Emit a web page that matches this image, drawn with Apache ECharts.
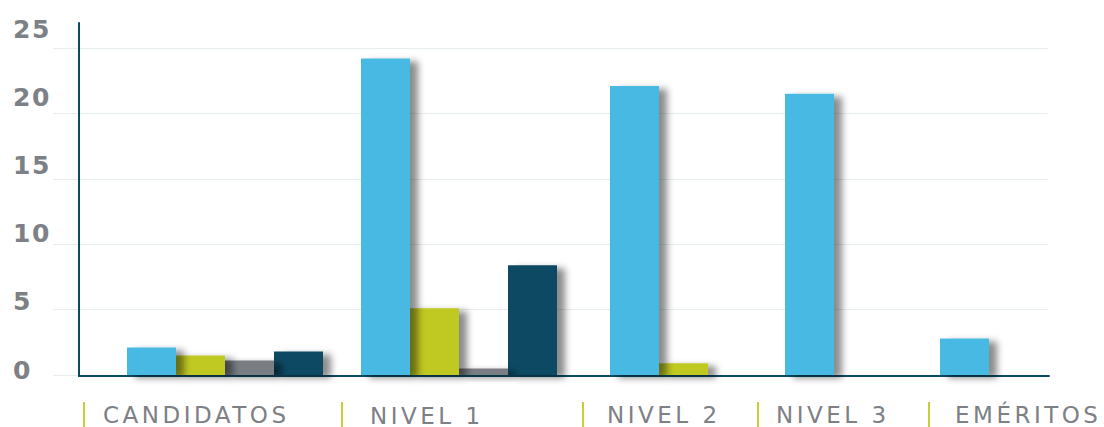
<!DOCTYPE html>
<html><head><meta charset="utf-8">
<script src="https://cdn.jsdelivr.net/npm/echarts@6/dist/echarts.min.js"></script>
<style>
html,body{margin:0;padding:0;background:#fff}
#chart{width:1104px;height:427px}
#chart svg text[style*="23px"]{letter-spacing:3.5px}
#chart svg text[style*="25px"]{letter-spacing:1.5px}
</style>
</head><body><div id="chart"></div>
<script>
// ---- data ----
const categories = ['CANDIDATOS', 'NIVEL 1', 'NIVEL 2', 'NIVEL 3', 'EMÉRITOS'];
const serieAzul   = [2.1, 24.2, 22.1, 21.5, 2.8];
const serieVerde  = [1.5, 5.1, 0.9, null, null];
const serieGris   = [1.1, 0.5, null, null, null];
const serieOscura = [1.8, 8.4, null, null, null];
const yTicks = [0, 5, 10, 15, 20, 25];

// ---- styling / layout ----
const seriesList = [
  { name: 'Serie 1', data: serieAzul,   color: '#47b9e2' },
  { name: 'Serie 2', data: serieVerde,  color: '#c0c822' },
  { name: 'Serie 3', data: serieGris,   color: '#7a7e83' },
  { name: 'Serie 4', data: serieOscura, color: '#0b4a64' }
];
const groupLayout = [
  { left: 127, width: 196 },
  { left: 361, width: 196 },
  { left: 610, width: 98 },
  { left: 785, width: 49 },
  { left: 940, width: 49 }
];
const labelLayout = [
  { tick: 83,  x: 103, top: 403 },
  { tick: 341, x: 370, top: 404 },
  { tick: 582, x: 607, top: 403 },
  { tick: 757, x: 776, top: 403 },
  { tick: 928, x: 955, top: 403 }
];
const yMin = yTicks[0], yMax = yTicks[yTicks.length - 1], yStep = yTicks[1] - yTicks[0];

const grids = [
  { left: 53, right: 56, top: 48, bottom: 52 },   // gridlines
  { left: 79, right: 55, top: 23, bottom: 51 },   // axis lines
  { left: 79, right: 55, top: 29, bottom: 57 }    // y labels
];
const xAxes = [
  { gridIndex: 0, type: 'category', data: categories, show: false },
  { gridIndex: 1, type: 'category', data: categories, axisLine: { show: true, lineStyle: { color: '#0b4a64', width: 2 } }, axisTick: { show: false }, axisLabel: { show: false } },
  { gridIndex: 2, type: 'category', data: categories, show: false }
];
const yAxes = [
  { gridIndex: 0, type: 'value', min: yMin, max: yMax, interval: yStep, axisLine: { show: false }, axisTick: { show: false }, axisLabel: { show: false }, splitLine: { show: true, lineStyle: { color: '#e6edf0', width: 1 } } },
  { gridIndex: 1, type: 'value', min: yMin, max: yMax, interval: yStep, axisLine: { show: true, lineStyle: { color: '#0b4a64', width: 2 } }, axisTick: { show: false }, axisLabel: { show: false }, splitLine: { show: false } },
  { gridIndex: 2, type: 'value', min: yMin, max: yMax, interval: yStep, axisLine: { show: false }, axisTick: { show: false }, splitLine: { show: false },
    axisLabel: { show: true, align: 'left', margin: 66, color: '#7d8085', fontSize: 25, fontWeight: 'bold', fontFamily: 'DejaVu Sans' } }
];
const series = [];

categories.forEach((cat, i) => {
  const gi = grids.length;
  grids.push({ left: groupLayout[i].left, width: groupLayout[i].width, top: 48, bottom: 52 });
  xAxes.push({ gridIndex: gi, type: 'category', data: [cat], show: false, boundaryGap: true });
  yAxes.push({ gridIndex: gi, type: 'value', min: yMin, max: yMax, interval: yStep, show: false, splitLine: { show: false } });
  seriesList.forEach((s, si) => {
    if (s.data[i] === null) return;
    series.push({
      name: s.name,
      type: 'bar',
      xAxisIndex: gi,
      yAxisIndex: gi,
      data: [s.data[i]],
      barWidth: 49,
      barGap: '0%',
      z: 10 - si,
      itemStyle: {
        color: s.color,
        shadowColor: 'rgba(0,0,0,0.45)',
        shadowBlur: 7,
        shadowOffsetX: 8,
        shadowOffsetY: 3
      },
      silent: true
    });
  });
});

const graphic = [];
categories.forEach((cat, i) => {
  const L = labelLayout[i];
  graphic.push({ type: 'rect', left: L.tick, top: 402, shape: { width: 2, height: 25 }, style: { fill: '#c9cf3a' } });
  graphic.push({ type: 'text', left: L.x, top: L.top, style: { text: cat, fill: '#7d8085', font: '23px "DejaVu Sans"' } });
});

const chart = echarts.init(document.getElementById('chart'), null, { renderer: 'svg' });
chart.setOption({
  animation: false,
  backgroundColor: '#ffffff',
  grid: grids,
  xAxis: xAxes,
  yAxis: yAxes,
  series: series,
  graphic: graphic
});
</script></body></html>
